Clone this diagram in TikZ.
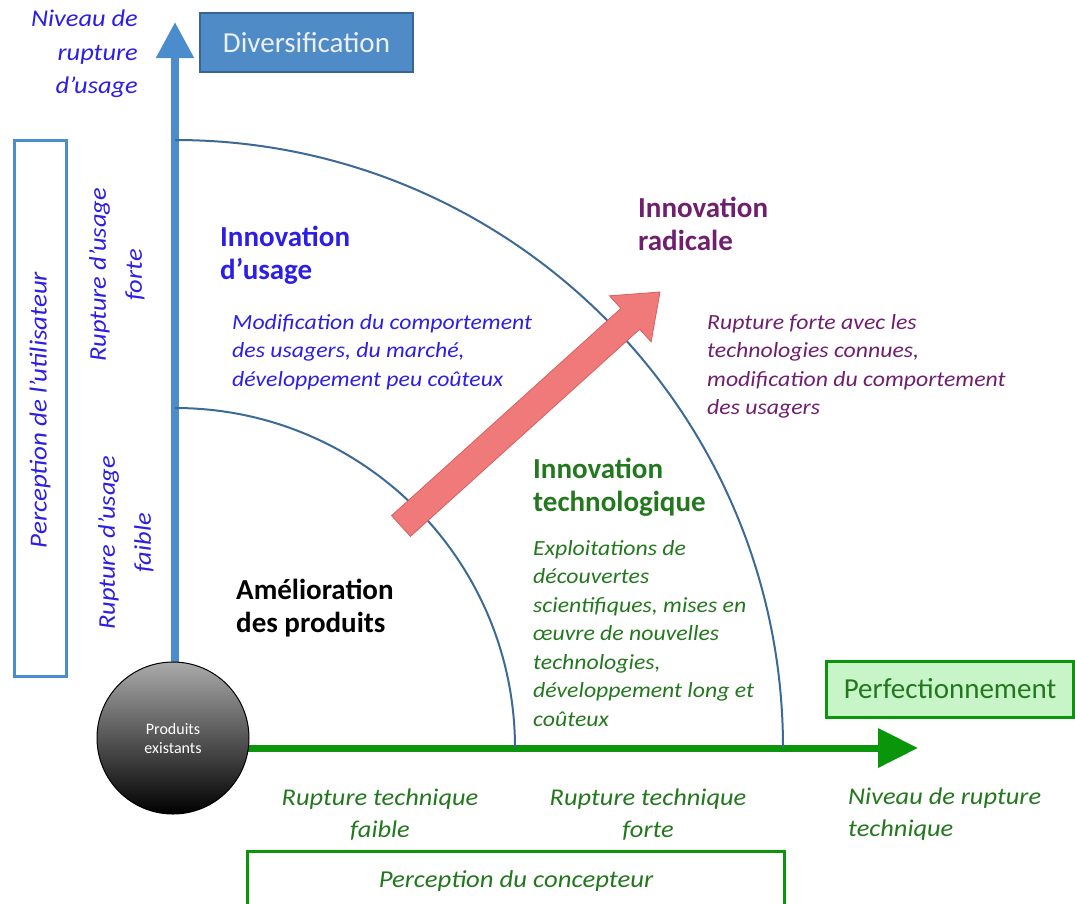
\documentclass[tikz,border=0pt]{standalone}
\usepackage{fontspec}
\setmainfont{Carlito}
\newfontfamily\wideit[FakeStretch=1.1,Ligatures=TeX]{Carlito}
\usetikzlibrary{arrows.meta}
\definecolor{axisblue}{RGB}{74,140,204}
\definecolor{arcblue}{RGB}{60,105,150}
\definecolor{divfill}{RGB}{79,139,199}
\definecolor{divdraw}{RGB}{56,100,150}
\definecolor{txtblue}{RGB}{45,30,230}
\definecolor{txtpurple}{RGB}{112,30,110}
\definecolor{txtgreen}{RGB}{35,120,30}
\definecolor{axisgreen}{RGB}{10,150,10}
\definecolor{perfill}{RGB}{200,245,200}
\definecolor{arrowred}{RGB}{240,122,122}
\definecolor{arrowdark}{RGB}{215,95,95}
\tikzset{
  lbl/.style={inner sep=0pt, font=\fontsize{29}{33}\selectfont\bfseries, align=left, anchor=north west},
  desc/.style={inner sep=0pt, font=\wideit\fontsize{21.6}{28.5}\selectfont\itshape, align=left, anchor=north west},
  axlbl/.style={inner sep=0pt, font=\wideit\fontsize{24}{32}\selectfont\itshape},
  rotlbl/.style={rotate=90, inner sep=0pt, align=center, text=txtblue, font=\wideit\fontsize{24}{36}\selectfont\itshape},
  arcline/.style={draw=arcblue, line width=2pt},
}
\begin{document}
\begin{tikzpicture}[x=1pt,y=-1pt]
\useasboundingbox (0,0) rectangle (1075,903);
% axes
\coordinate (vtip) at (175,22);
\coordinate (htip) at (918,748);
\coordinate (vstart) at (175,700);
\coordinate (hstart) at (200,748);
\draw[axisblue, line width=8pt, -{Triangle[width=36pt,length=36pt]}] (vstart) -- (vtip);
\draw[axisgreen, line width=7pt, -{Triangle[width=38pt,length=40pt]}] (hstart) -- (htip);
% arcs
\draw[arcline] (175,408) arc[start angle=270, end angle=360, radius=340];
\draw[arcline] (175,140) arc[start angle=270, end angle=360, radius=608];
% red arrow
\draw[fill=arrowred, draw=arrowdark, line width=0.8pt, line join=miter]
  (410.4,536.4) -- (391.6,515.6) -- (620.9,308.4) -- (609.5,295.8) -- (660,292)
  -- (651.1,341.8) -- (639.7,329.2) -- cycle;
% circle
\node[circle, draw=black, line width=1pt, minimum size=152pt, inner sep=0pt,
  top color={rgb,255:red,170;green,170;blue,170}, bottom color=black,
  text=white, font=\fontsize{16}{19}\selectfont, align=center] (prod) at (173,738) {Produits\\existants};
% boxes
\node[draw=divdraw, fill=divfill, line width=1.5pt, minimum width=213pt, minimum height=59pt,
  text={rgb,255:red,235;green,240;blue,250}, font=\fontsize{29}{32}\selectfont, inner sep=0pt] (div) at (306.5,42.5) {Diversification};
\node[draw=axisgreen, fill=perfill, line width=3pt, minimum width=247pt, minimum height=56pt,
  text=txtgreen, font=\fontsize{29}{32}\selectfont, inner sep=0pt] (perf) at (950,689) {Perfectionnement};
\node[draw=axisblue, line width=3pt, minimum width=52pt, minimum height=536pt, inner sep=0pt] (user) at (40,408) {};
\node[rotlbl, font=\wideit\fontsize{24.5}{30}\selectfont\itshape] (usertxt) at (40,410) {Perception de l'utilisateur};
\node[draw=axisgreen, line width=3pt, minimum width=537pt, minimum height=54pt, inner sep=0pt] (conc) at (516,878) {};
\node[text=txtgreen, font=\wideit\fontsize{24.3}{28}\selectfont\itshape, inner sep=0pt] (conctxt) at (516,881) {Perception du concepteur};
% axis labels
\node[axlbl, anchor=north east, align=right, text=txtblue, font=\wideit\fontsize{24}{33.5}\selectfont\itshape] (yl) at (138,10) {Niveau de\\rupture\\d'usage};
\node[axlbl, anchor=north west, align=left, text=txtgreen] (xl) at (848,788) {Niveau de rupture\\technique};
\node[rotlbl] (uf) at (117,275) {Rupture d'usage\\forte};
\node[rotlbl] (ufa) at (126,543) {Rupture d'usage\\faible};
\node[axlbl, anchor=north, align=center, text=txtgreen] (tf) at (380,789) {Rupture technique\\faible};
\node[axlbl, anchor=north, align=center, text=txtgreen] (tfo) at (648,789) {Rupture technique\\forte};
% region labels
\node[lbl, text=txtblue] (iu) at (220,226) {Innovation\\d'usage};
\node[desc, text=txtblue] (iud) at (232,314) {Modification du comportement\\des usagers, du march\'e,\\d\'eveloppement peu co\^uteux};
\node[lbl, text=txtpurple] (ir) at (638,197) {Innovation\\radicale};
\node[desc, text=txtpurple] (ird) at (707,314) {Rupture forte avec les\\technologies connues,\\modification du comportement\\des usagers};
\node[lbl, text=txtgreen] (it) at (533,458) {Innovation\\technologique};
\node[desc, text=txtgreen] (itd) at (533,540) {Exploitations de\\d\'ecouvertes\\scientifiques, mises en\\\oe uvre de nouvelles\\technologies,\\d\'eveloppement long et\\co\^uteux};
\node[lbl, text=black] (am) at (236,579) {Am\'elioration\\des produits};
\end{tikzpicture}
\end{document}
